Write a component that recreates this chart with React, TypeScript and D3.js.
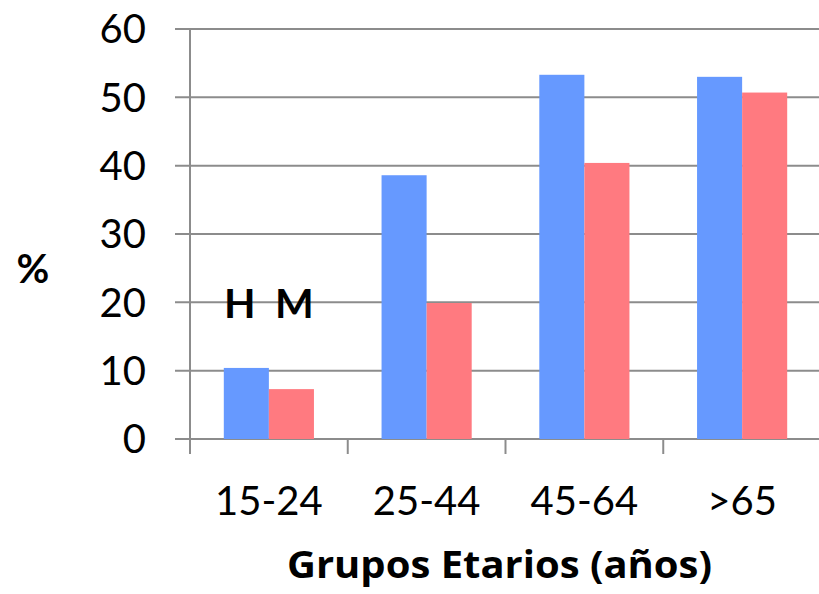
import React from "react";
import * as d3 from "d3";

const categories = ["15-24", "25-44", "45-64", ">65"];
const hombres = [10.4, 38.6, 53.3, 53.0];
const mujeres = [7.3, 19.9, 40.4, 50.7];
const yTicks = [0, 10, 20, 30, 40, 50, 60];
const seriesNames = ["H", "M"];

const W = 819, H = 594;
const left = 190, right = 821, top = 29, bottom = 439;
const FONT = "Lato, 'Open Sans', sans-serif";
const TITLE_FONT = "'Open Sans', Lato, sans-serif";

export default function App() {
  const x = d3.scaleBand<string>().domain(categories).range([left, right]).paddingInner(0).paddingOuter(0);
  const inner = d3.scaleBand<string>().domain(seriesNames).range([0, x.bandwidth()]).paddingInner(0).paddingOuter(0.75);
  const y = d3.scaleLinear().domain([0, 60]).range([bottom, top]);
  const colors = ["#6699FF", "#FF7A80"];
  const series = [hombres, mujeres];
  const boundaries = categories.map((c) => x(c)!).concat([right]);

  return (
    <svg width={W} height={H} style={{ position: "absolute", left: 0, top: 0, background: "#fff" }}>
      {yTicks.map((t) => (
        <g key={t}>
          <line x1={left - 15} x2={W} y1={y(t)} y2={y(t)} stroke="#8c8c8c" strokeWidth={2} />
          <text x={146} y={y(t)} dy="0.36em" textAnchor="end" fontFamily={FONT} fontSize={40} fill="#000">{t}</text>
        </g>
      ))}
      <line x1={left} x2={left} y1={top} y2={bottom + 15} stroke="#8c8c8c" strokeWidth={2} />
      {boundaries.slice(1).map((b, i) => (
        <line key={i} x1={b} x2={b} y1={bottom} y2={bottom + 15} stroke="#8c8c8c" strokeWidth={2} />
      ))}
      {categories.map((c, i) => (
        <g key={c}>
          {series.map((s, j) => (
            <rect key={j} x={x(c)! + inner(seriesNames[j])!} y={y(s[i])} width={inner.bandwidth()} height={bottom - y(s[i])} fill={colors[j]} />
          ))}
          <text x={x(c)! + x.bandwidth() / 2} y={515} textAnchor="middle" fontFamily={FONT} fontSize={40} fill="#000">{c}</text>
        </g>
      ))}
      <text x={33} y={283} textAnchor="middle" fontFamily={FONT} fontSize={40} fontWeight="bold" fill="#000">%</text>
      <text x={224} y={318} textAnchor="start" fontFamily={FONT} fontSize={41} fontWeight="bold" fill="#000">H</text>
      <text x={275} y={318} textAnchor="start" fontFamily={FONT} fontSize={41} fontWeight="bold" fill="#000">M</text>
      <text x={287} y={578} textAnchor="start" textLength={425} lengthAdjust="spacingAndGlyphs" fontFamily={TITLE_FONT} fontSize={38} fontWeight="bold" fill="#000">Grupos Etarios (años)</text>
    </svg>
  );
}
